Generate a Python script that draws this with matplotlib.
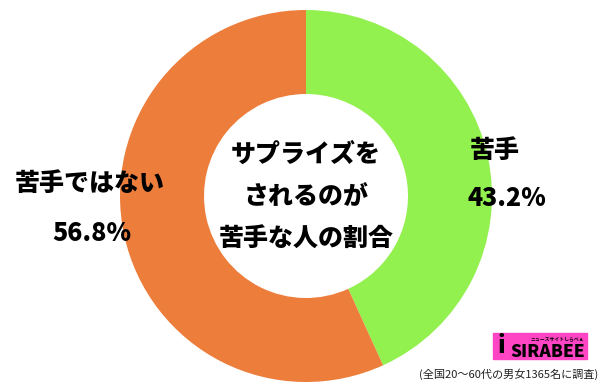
import matplotlib
matplotlib.use("Agg")
import matplotlib.pyplot as plt
from matplotlib.patches import Rectangle

plt.rcParams['font.family'] = ['Noto Sans CJK JP', 'DejaVu Sans']

labels = ['苦手', '苦手ではない']
values = [43.2, 56.8]
colors = ['#92F04F', '#ED7D3A']
center_title = 'サプライズを\nされるのが\n苦手な人の割合'
note = '(全国20〜60代の男女1365名に調査)'

fig = plt.figure(figsize=(6, 3.87), dpi=100)
ax = fig.add_axes([0, 0, 1, 1])

cx, cy, r = 306, 191, 186
ax.pie(values, colors=colors, startangle=90, counterclock=False,
       center=(cx, cy), radius=r,
       wedgeprops=dict(width=r - 102, edgecolor='none'))
ax.set_xlim(0, 600)
ax.set_ylim(0, 387)
ax.set_aspect('equal')
ax.axis('off')

ax.text(cx, cy, center_title, ha='center', va='center', fontsize=18,
        fontweight='heavy', linespacing=1.75)

# labels on the ring
ax.text(495, 387 - 150, labels[0], ha='center', va='center', fontsize=18, fontweight='heavy')
ax.text(507, 387 - 198, f'{values[0]}%', ha='center', va='center', fontsize=18, fontweight='heavy')
ax.text(90, 387 - 183, labels[1], ha='center', va='center', fontsize=18, fontweight='heavy')
ax.text(92, 387 - 233, f'{values[1]}%', ha='center', va='center', fontsize=18, fontweight='heavy')

# logo
ax.add_patch(Rectangle((493, 387 - 359), 94, 26, color='#FF44C4', zorder=3))
ax.text(585, 387 - 357, 'SIRABEE', ha='right', va='baseline', fontsize=12.5,
        fontweight='heavy', style='italic', color='black', zorder=4)
ax.text(584, 387 - 338.5, 'ニュースサイトしらべぇ', ha='right', va='center', fontsize=3.5,
        fontweight='bold', color='black', zorder=4)
ax.text(501, 387 - 346, 'i', ha='center', va='center', fontsize=17,
        fontweight='heavy', color='black', zorder=4)

ax.text(598, 387 - 374, note, ha='right', va='center', fontsize=8, color='#222222')

fig.savefig('out.png', dpi=100)
